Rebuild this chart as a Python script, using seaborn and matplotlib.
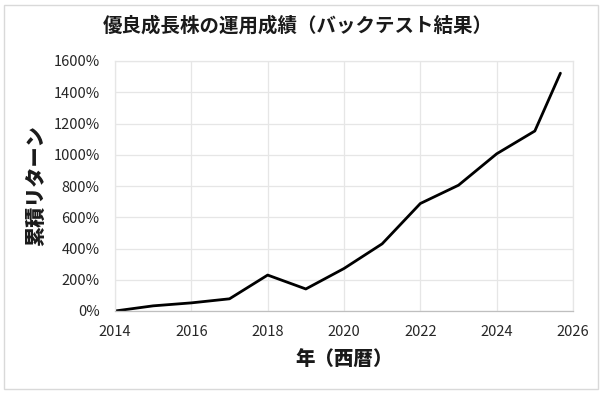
import numpy as np
import pandas as pd
import matplotlib
matplotlib.use("Agg")
import matplotlib.pyplot as plt
import seaborn as sns
from matplotlib.ticker import FuncFormatter
from matplotlib.patches import Rectangle

# Données
years = [2014, 2015, 2016, 2017, 2018, 2019, 2020, 2021, 2022, 2023, 2024, 2025, 2025.67]
cum_return = [0, 33, 52, 78, 230, 141, 272, 430, 688, 805, 1006, 1152, 1522]
x_ticks = [2014, 2016, 2018, 2020, 2022, 2024, 2026]
y_ticks = [0, 200, 400, 600, 800, 1000, 1200, 1400, 1600]

df = pd.DataFrame({"year": years, "ret": cum_return})

sns.set_theme(style="whitegrid")
plt.rcParams['font.family'] = ['Noto Sans CJK JP', 'DejaVu Sans']

fig = plt.figure(figsize=(6.02, 3.93), dpi=100)
ax = fig.add_axes([115 / 602, 82 / 393, 458 / 602, 250 / 393])

sns.lineplot(data=df, x="year", y="ret", color="black", linewidth=2, ax=ax)

ax.set_xlim(2014, 2026)
ax.set_ylim(0, 1600)
ax.set_xticks(x_ticks)
ax.set_yticks(y_ticks)
ax.yaxis.set_major_formatter(FuncFormatter(lambda v, p: f"{int(v)}%"))
ax.tick_params(axis="y", labelsize=10.5, colors="#262626", length=0, pad=11)
ax.tick_params(axis="x", labelsize=10.5, colors="#262626", length=0, pad=10)
ax.grid(True, color="#e6e6e6", linewidth=0.9)
for s in ax.spines.values():
    s.set_color("#e6e6e6")
    s.set_linewidth(0.9)
ax.spines["bottom"].set_color("#bfbfbf")

ax.set_xlabel("年（西暦）", fontsize=14, fontweight="heavy", labelpad=8, color="#1a1a1a")
ax.set_ylabel("累積リターン", fontsize=14.5, fontweight="heavy", labelpad=5, color="#1a1a1a")
fig.text(0.495, 0.935, "優良成長株の運用成績（バックテスト結果）", ha="center", va="center",
         fontsize=14, fontweight="bold", color="#1a1a1a")

# cadre extérieur
fig.patches.append(Rectangle((4 / 602, 4 / 393), 594 / 602, 384 / 393, transform=fig.transFigure,
                             fill=False, edgecolor="#d9d9d9", linewidth=1))

fig.savefig("out.png", dpi=100)
